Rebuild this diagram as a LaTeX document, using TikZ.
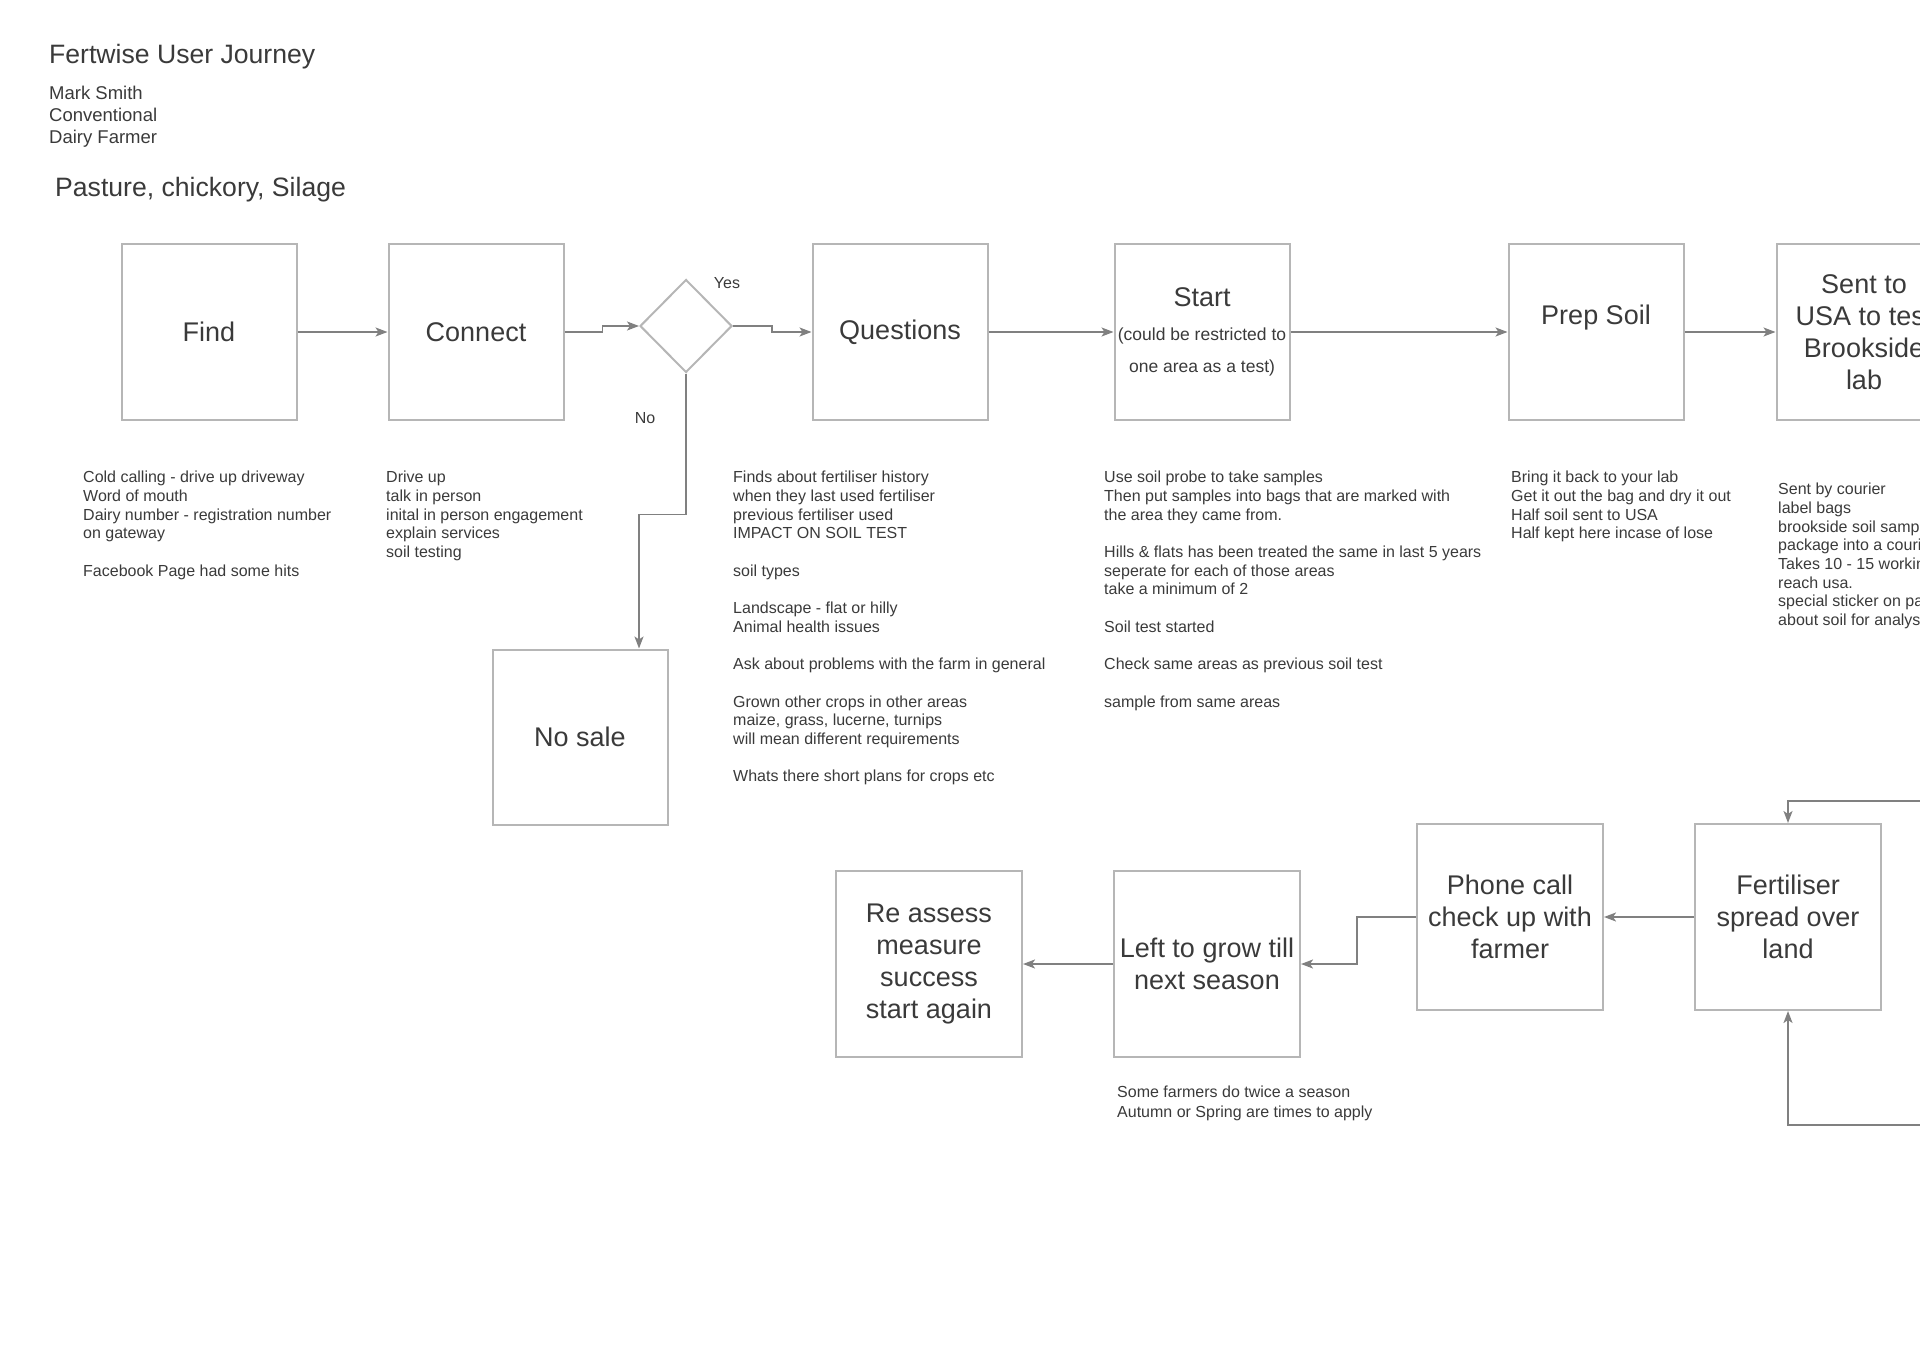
\documentclass[tikz,border=0pt]{standalone}
\usepackage{fontspec}
\setmainfont{Liberation Sans}
\usetikzlibrary{arrows.meta,shapes.geometric}
\definecolor{boxgray}{RGB}{182,182,182}
\definecolor{linegray}{RGB}{128,128,128}
\definecolor{inkgray}{RGB}{58,58,58}

\begin{document}
\begin{tikzpicture}[x=1pt, y=-1pt,
    stage/.style={draw=boxgray, line width=2pt, minimum width=175pt, minimum height=175pt,
        align=center, text=inkgray, font=\fontsize{27}{32}\selectfont, inner sep=2pt},
    bigstage/.style={stage, minimum width=186pt, minimum height=186pt},
    decision/.style={draw=boxgray, line width=2pt, diamond, minimum width=92pt,
        minimum height=93pt, inner sep=0pt},
    note/.style={anchor=north west, align=left, inner sep=0pt, text=inkgray,
        font=\fontsize{16}{18.7}\selectfont},
    arr/.style={draw=linegray, line width=1.8pt, -{Stealth[length=12pt,width=9pt,inset=3pt]}}]
    \useasboundingbox (0,0) rectangle (1920,1359);
    \clip (0,0) rectangle (1920,1359);

    % Heading
    \node[anchor=west, inner sep=0pt, text=inkgray, font=\fontsize{26.6}{32}\selectfont] (title) at (49,57) {Fertwise User Journey};
    \node[anchor=north west, align=left, inner sep=0pt, text=inkgray, font=\fontsize{18.5}{22}\selectfont] (persona) at (49,86) {Mark Smith\\Conventional\\Dairy Farmer};
    \node[anchor=west, inner sep=0pt, text=inkgray, font=\fontsize{26.6}{32}\selectfont] (crops) at (55,190) {Pasture, chickory, Silage};

    % Top row
    \node[stage] (find) at (209,332) {Find};
    \node[stage] (connect) at (476,332) {Connect};
    \node[decision] (dia) at (686,326) {};
    \node[stage] (quest) at (900,332) {Questions};
    \node[stage] (start) at (1202,332) {Start\\[2pt]\fontsize{17.5}{32}\selectfont (could be restricted to\\\fontsize{17.5}{32}\selectfont one area as a test)};
    \node[stage] (prep) at (1596,332) {Prep Soil\\[2pt]};
    \node[stage] (sent) at (1864,332) {Sent to\\USA to test\\Brookside\\lab};
    \node[stage] (nosale) at (580,737) {No sale};

    \node[text=inkgray, font=\fontsize{16}{19}\selectfont] (yes) at (727,283) {Yes};
    \node[text=inkgray, font=\fontsize{16}{19}\selectfont] (no) at (645,418) {No};

    % Bottom row
    \node[bigstage] (reassess) at (929,964) {Re assess\\measure\\success\\start again};
    \node[bigstage] (grow) at (1207,964) {Left to grow till\\next season};
    \node[bigstage] (phone) at (1510,917) {Phone call\\check up with\\farmer};
    \node[bigstage] (fert) at (1788,917) {Fertiliser\\spread over\\land};

    % Notes
    \node[note] (findnote) at (83,471) {Cold calling - drive up driveway\\Word of mouth\\Dairy number - registration number\\on gateway\\[18.7pt]Facebook Page had some hits};
    \node[note] (connectnote) at (386,471) {Drive up\\talk in person\\inital in person engagement\\explain services\\soil testing};
    \node[note] (questnote) at (733,471) {Finds about fertiliser history\\when they last used fertiliser\\previous fertiliser used\\IMPACT ON SOIL TEST\\[18.7pt]soil types\\[18.7pt]Landscape - flat or hilly\\Animal health issues\\[18.7pt]Ask about problems with the farm in general\\[18.7pt]Grown other crops in other areas\\maize, grass, lucerne, turnips\\will mean different requirements\\[18.7pt]Whats there short plans for crops etc};
    \node[note] (startnote) at (1104,471) {Use soil probe to take samples\\Then put samples into bags that are marked with\\the area they came from.\\[18.7pt]Hills \& flats has been treated the same in last 5 years\\seperate for each of those areas\\take a minimum of 2\\[18.7pt]Soil test started\\[18.7pt]Check same areas as previous soil test\\[18.7pt]sample from same areas};
    \node[note] (prepnote) at (1511,471) {Bring it back to your lab\\Get it out the bag and dry it out\\Half soil sent to USA\\Half kept here incase of lose};
    \node[note] (sentnote) at (1778,483) {Sent by courier\\label bags\\brookside soil sample\\package into a courier\\Takes 10 - 15 working\\reach usa.\\special sticker on pack\\about soil for analysis};
    \node[note, font=\fontsize{16}{19.6}\selectfont] (grownote) at (1117,1086) {Some farmers do twice a season\\Autumn or Spring are times to apply};

    % Edges
    \coordinate (labin) at (1930,801);
    \coordinate (labout) at (1930,1125);
    \draw[arr] (find) -- (connect);
    \draw[arr] (connect.east) -- ++(38,0) |- (dia.west);
    \draw[arr] (dia.east) -- ++(39,0) |- (quest.west);
    \draw[arr] (dia.south) -- ++(0,141) -| ([xshift=59pt]nosale.north);
    \draw[arr] (quest) -- (start);
    \draw[arr] (start) -- (prep);
    \draw[arr] (prep) -- (sent);
    \draw[arr] (labin) -| (fert.north);
    \draw[arr] (labout) -| (fert.south);
    \draw[arr] (fert) -- (phone);
    \draw[arr] (phone.west) -- ++(-59,0) |- (grow.east);
    \draw[arr] (grow) -- (reassess);
\end{tikzpicture}
\end{document}
